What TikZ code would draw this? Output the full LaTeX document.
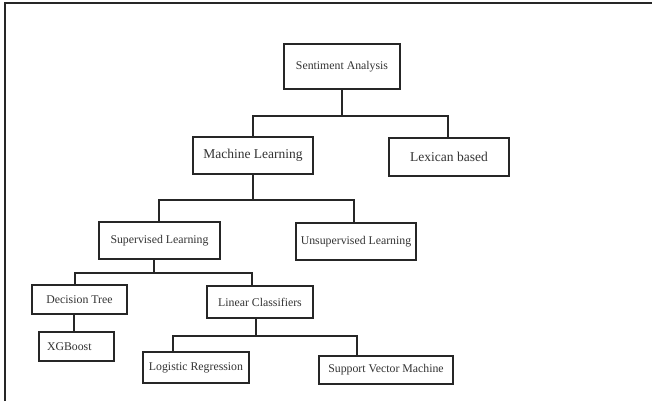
\documentclass[tikz,border=0pt]{standalone}
\usepackage{fontspec}
\setmainfont{Liberation Serif}

\begin{document}
\begin{tikzpicture}[x=1pt,y=1pt]
			\tikzstyle{every node}+=[inner sep=0pt]
			\tikzstyle{box}=[draw=black!85, line width=1.2pt, fill=white, text=black!80, font=\fontsize{11.8}{13}\selectfont]
			\tikzstyle{link}=[draw=black!85, line width=1.2pt]
			\useasboundingbox (0,0) rectangle (652,-401);
			\draw [black!85, line width=1.6pt] (5,-401) -- (5,-3) -- (652,-3);
			\draw (342,-66.5) node [box, minimum width=116pt, minimum height=45pt] (sa) {Sentiment Analysis};
			\draw (253,-155.5) node [box, minimum width=120pt, minimum height=37pt, font=\fontsize{13.5}{15}\selectfont] (ml) {Machine Learning};
			\draw (449,-157) node [box, minimum width=120pt, minimum height=38pt, font=\fontsize{13.5}{15}\selectfont] (lex) {Lexican based};
			\draw (159.5,-240.5) node [box, minimum width=121pt, minimum height=37pt] (sl) {Supervised Learning};
			\draw (356,-241.5) node [box, minimum width=120pt, minimum height=37pt] (ul) {Unsupervised Learning};
			\draw (79.5,-299.5) node [box, minimum width=95pt, minimum height=29pt] (dt) {Decision Tree};
			\draw (260,-302) node [box, minimum width=106pt, minimum height=32pt] (lc) {Linear Classifiers};
			\draw (76.5,-346.5) node [box, minimum height=29pt, inner xsep=8pt, text width=59pt, align=left] (xg) {XGBoost};
			\draw (196,-367.5) node [box, minimum width=106pt, minimum height=31pt] (lr) {Logistic Regression};
			\draw (386,-370) node [box, minimum width=134pt, minimum height=28pt] (svm) {Support Vector Machine};
			% level 1
			\coordinate (b1) at (342,-116);
			\draw [link] (sa.south) -- (b1);
			\draw [link] (ml.north) |- (b1) -| ([xshift=-1pt]lex.north);
			% level 2
			\coordinate (b2) at (253,-200);
			\draw [link] (ml.south) -- (b2);
			\draw [link] ([xshift=-0.5pt]sl.north) |- (b2) -| ([xshift=-2pt]ul.north);
			% level 3
			\coordinate (b3) at (154,-273);
			\draw [link] ([xshift=-5.5pt]sl.south) -- (b3);
			\draw [link] ([xshift=-4.5pt]dt.north) |- (b3) -| ([xshift=-8pt]lc.north);
			\draw [link] ([xshift=-5.5pt]dt.south) -- ([xshift=-2.5pt]xg.north);
			% level 4
			\coordinate (b4) at (256,-336);
			\draw [link] ([xshift=-4pt]lc.south) -- (b4);
			\draw [link] ([xshift=-23pt]lr.north) |- (b4) -| ([xshift=-29pt]svm.north);
		\end{tikzpicture}
\end{document}
